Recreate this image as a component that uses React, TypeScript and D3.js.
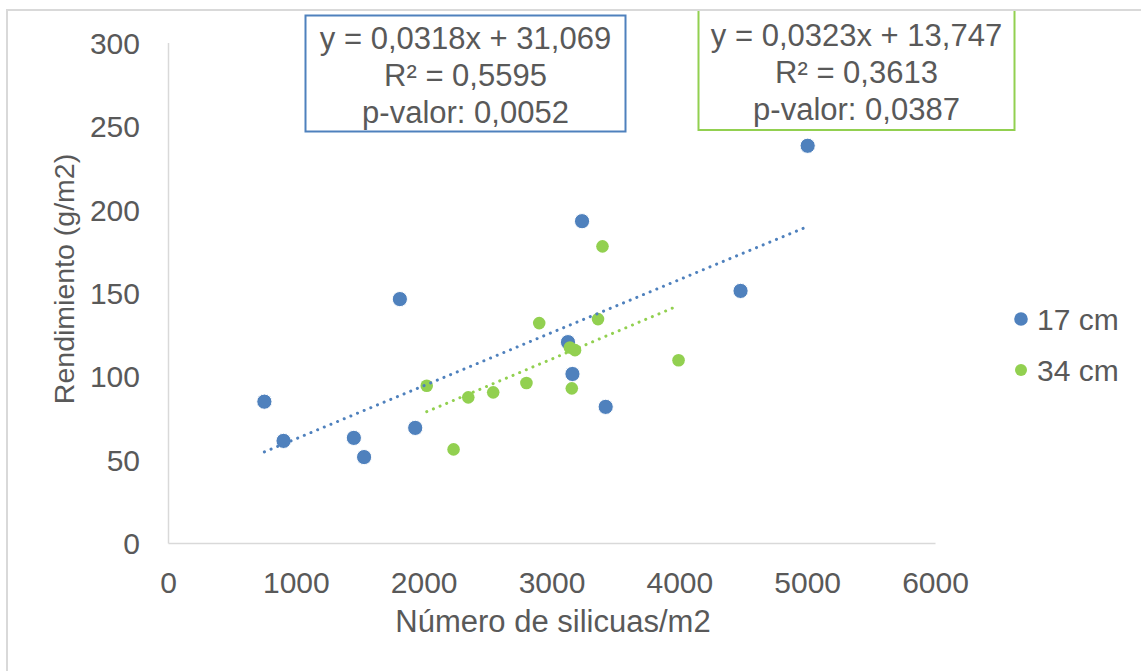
import React from 'react';
import * as d3 from 'd3';

// series values
const seriesNames = ['17 cm', '34 cm'];
const blueX = [750, 900, 1450, 1530, 1810, 1930, 3125, 3160, 3235, 3420, 4475, 5000];
const blueY = [85, 61.5, 63.3, 51.8, 146.5, 69.3, 120.7, 101.6, 193.2, 81.9, 151.4, 238.4];
const greenX = [2020, 2230, 2345, 2540, 2800, 2900, 3140, 3155, 3180, 3360, 3395, 3990];
const greenY = [94.6, 56.4, 87.6, 90.6, 96.2, 132.1, 117.5, 93.0, 115.9, 134.5, 178.1, 109.8];

// trendline coefficients and labels
const slopes = [0.0318, 0.0323];
const intercepts = [31.069, 13.747];
const blueLabel = ['y = 0,0318x + 31,069', 'R² = 0,5595', 'p-valor: 0,0052'];
const greenLabel = ['y = 0,0323x + 13,747', 'R² = 0,3613', 'p-valor: 0,0387'];

const xTicks = [0, 1000, 2000, 3000, 4000, 5000, 6000];
const yTicks = [0, 50, 100, 150, 200, 250, 300];

const BLUE = '#4F81BD';
const GREEN = '#92D050';
const TEXT = '#595959';
const FONT = 'Liberation Sans, Arial, sans-serif';

const App = () => {
  const W = 1141;
  const H = 671;
  const x = d3.scaleLinear().domain([0, 6000]).range([168.5, 935.5]);
  const y = d3.scaleLinear().domain([0, 300]).range([543.5, 43]);

  const series = [
    { xs: blueX, ys: blueY, color: BLUE, r: 7.6 },
    { xs: greenX, ys: greenY, color: GREEN, r: 6.3 },
  ];

  const line = d3.line<[number, number]>().x(d => x(d[0])).y(d => y(d[1]));

  const trend = series.map((s, i) => {
    const ext = d3.extent(s.xs) as [number, number];
    return line(ext.map(v => [v, slopes[i] * v + intercepts[i]] as [number, number]));
  });

  return (
    <svg width={W} height={H} style={{ position: 'absolute', left: 0, top: 0 }} fontFamily={FONT}>
      <rect x={0} y={0} width={W} height={H} fill="#fff" />
      {/* chart frame */}
      <rect x={7} y={10} width={W + 20} height={H + 20} fill="none" stroke="#d9d9d9" strokeWidth={2} />

      {/* axes */}
      <line x1={x(0)} x2={x(0)} y1={y(300)} y2={y(0)} stroke="#d9d9d9" strokeWidth={1.5} />
      <line x1={x(0)} x2={x(6000)} y1={y(0)} y2={y(0)} stroke="#d9d9d9" strokeWidth={1.5} />

      {yTicks.map(t => (
        <text key={'y' + t} x={140} y={y(t)} dy="0.36em" textAnchor="end" fontSize={30} fill={TEXT}>{t}</text>
      ))}
      {xTicks.map(t => (
        <text key={'x' + t} x={x(t)} y={582} dy="0.36em" textAnchor="middle" fontSize={30} fill={TEXT}>{t}</text>
      ))}

      <text x={553} y={632} textAnchor="middle" fontSize={31} fill={TEXT}>Número de silicuas/m2</text>
      <text transform={`translate(74,279) rotate(-90)`} textAnchor="middle" fontSize={28.5} fill={TEXT}>Rendimiento (g/m2)</text>

      {/* points */}
      {series.map((s, si) => (
        <g key={'s' + si}>
          {s.xs.map((v, i) => (
            <circle key={i} cx={x(v)} cy={y(s.ys[i])} r={s.r} fill={s.color}
              stroke={si === 0 ? '#ffffff' : 'none'} strokeWidth={si === 0 ? 1 : 0} />
          ))}
        </g>
      ))}

      {/* trendlines */}
      {trend.map((d, i) => (
        <path key={'t' + i} d={d || ''} fill="none" stroke={series[i].color} strokeWidth={3}
          strokeDasharray="0.1 7.1" strokeLinecap="round" />
      ))}

      {/* equation boxes */}
      <rect x={305.5} y={15.5} width={320} height={116} fill="#fff" stroke={BLUE} strokeWidth={2} />
      {blueLabel.map((t, i) => (
        <text key={'b' + i} x={465.5} y={38 + i * 37} dy="0.36em" textAnchor="middle" fontSize={31} fill={TEXT}>{t}</text>
      ))}
      <rect x={698.5} y={2} width={316} height={128} fill="#fff" stroke={GREEN} strokeWidth={2} />
      <rect x={7} y={0} width={W} height={9} fill="#fff" />
      <line x1={7} x2={W} y1={10} y2={10} stroke="#d9d9d9" strokeWidth={2} />
      {greenLabel.map((t, i) => (
        <text key={'g' + i} x={856.5} y={35 + i * 37} dy="0.36em" textAnchor="middle" fontSize={31} fill={TEXT}>{t}</text>
      ))}

      {/* legend */}
      {seriesNames.map((n, i) => (
        <g key={'l' + i} transform={`translate(1021,${319 + i * 51})`}>
          <circle r={i === 0 ? 6.8 : 6} fill={series[i].color} />
          <text x={16} dy="0.36em" fontSize={30} fill={TEXT}>{n}</text>
        </g>
      ))}
    </svg>
  );
};

export default App;
